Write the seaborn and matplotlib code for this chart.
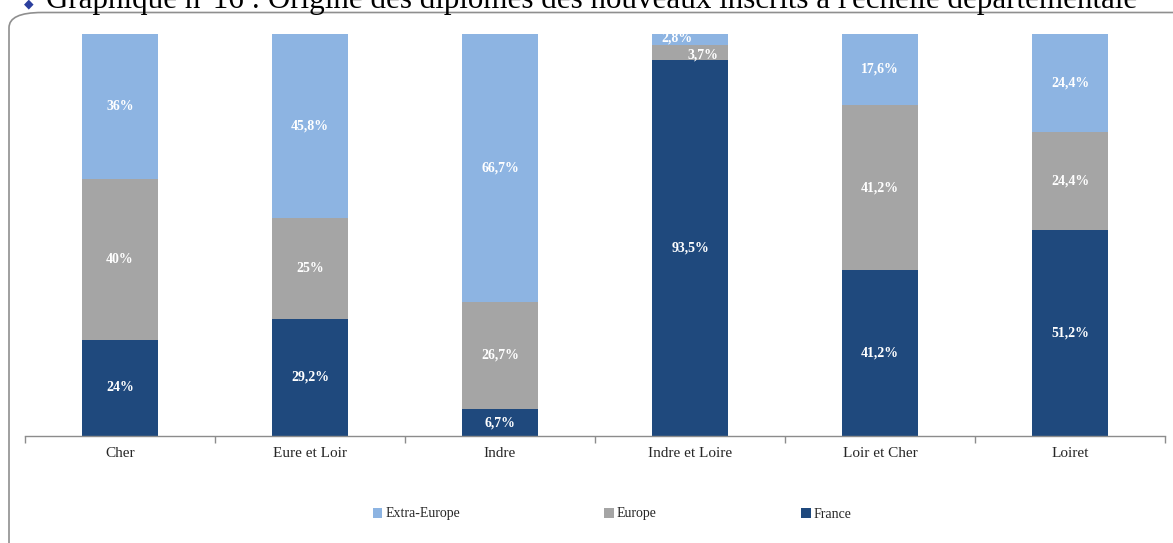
import matplotlib
matplotlib.use("Agg")
import matplotlib.pyplot as plt
import seaborn as sns
import numpy as np
from matplotlib.patches import FancyBboxPatch, Patch

sns.set_theme(style="white")
plt.rcParams['font.family'] = ['Liberation Serif', 'DejaVu Serif']

departements = ["Cher", "Eure et Loir", "Indre", "Indre et Loire", "Loir et Cher", "Loiret"]
france = [24.0, 29.2, 6.7, 93.5, 41.2, 51.2]
europe = [40.0, 25.0, 26.7, 3.7, 41.2, 24.4]
extra_europe = [36.0, 45.8, 66.7, 2.8, 17.6, 24.4]
lbl_france = ["24%", "29,2%", "6,7%", "93,5%", "41,2%", "51,2%"]
lbl_europe = ["40%", "25%", "26,7%", "3,7%", "41,2%", "24,4%"]
lbl_extra = ["36%", "45,8%", "66,7%", "2,8%", "17,6%", "24,4%"]
series_names = ["Extra-Europe", "Europe", "France"]

c_extra = "#8DB4E2"
c_europe = "#A5A5A5"
c_france = "#1F497D"

W, H = 1173, 543
fig = plt.figure(figsize=(W / 100, H / 100), dpi=100)

# frame (extends beyond right and bottom edges as in the reference)
frame = FancyBboxPatch((9 / W, -20 / H), (1220 / W), ((543 - 12.5 + 20) / H),
                       boxstyle="round,pad=0,rounding_size=0.028",
                       transform=fig.transFigure, fill=False,
                       edgecolor="#8f8f8f", linewidth=1.2, zorder=0, clip_on=False)
fig.patches.append(frame)

# title (cut at the top as in the reference)
fig.text(46 / W, 1 - 8 / H,
         "Graphique n°16 : Origine des diplômes des nouveaux inscrits à l'échelle départementale",
         fontsize=22.3, color="black", va="baseline", ha="left")
fig.text(29 / W, 1 - 7 / H, "◆", fontsize=9, color="#2b3f9e", va="baseline", ha="center")

ax = fig.add_axes([25 / W, 1 - 436 / H, 1140 / W, 402 / H])

f = np.array(france)
e = np.array(europe)
x = np.array(extra_europe)
tot_fe = f + e
tot = f + e + x

sns.barplot(x=departements, y=tot, color=c_extra, saturation=1, width=0.4, ax=ax, edgecolor="none")
sns.barplot(x=departements, y=tot_fe, color=c_europe, saturation=1, width=0.4, ax=ax, edgecolor="none")
sns.barplot(x=departements, y=f, color=c_france, saturation=1, width=0.4, ax=ax, edgecolor="none")

ax.set_ylim(0, 100)
ax.set_xlim(-0.5, 5.5)
ax.set_ylabel("")
ax.set_xlabel("")
ax.set_yticks([])
for s in ["top", "left", "right"]:
    ax.spines[s].set_visible(False)
ax.spines["bottom"].set_color("#8c8c8c")
ax.spines["bottom"].set_linewidth(1.0)
ax.set_xticks(range(len(departements)))
ax.set_xticklabels(departements, fontsize=11)
ax.set_xticks(np.arange(-0.5, 6.0, 1.0), minor=True)
ax.tick_params(axis="x", which="major", length=0, pad=8)
ax.tick_params(axis="x", which="minor", length=5, direction="out", color="#8c8c8c", bottom=True)

lkw = dict(color="white", fontsize=10, fontweight="bold", ha="center", va="center")
for i in range(len(departements)):
    if departements[i] == "Indre et Loire":
        ax.text(i - 0.07, f[i] + e[i] + x[i] / 2 + 0.4, lbl_extra[i], **lkw)
        ax.text(i + 0.07, f[i] + e[i] / 2 - 0.6, lbl_europe[i], **lkw)
        ax.text(i, f[i] / 2, lbl_france[i], **lkw)
    else:
        ax.text(i, f[i] + e[i] + x[i] / 2, lbl_extra[i], **lkw)
        ax.text(i, f[i] + e[i] / 2, lbl_europe[i], **lkw)
        ax.text(i, f[i] / 2, lbl_france[i], **lkw)

handles = [Patch(facecolor=c, edgecolor="none") for c in (c_extra, c_europe, c_france)]
fig.legend(handles, series_names, loc="center", bbox_to_anchor=(612 / W, 1 - 514 / H),
           ncol=3, frameon=False, fontsize=10, handlelength=0.7, handleheight=0.7,
           handletextpad=0.2, columnspacing=10.4)

fig.savefig("out.png", dpi=100)
